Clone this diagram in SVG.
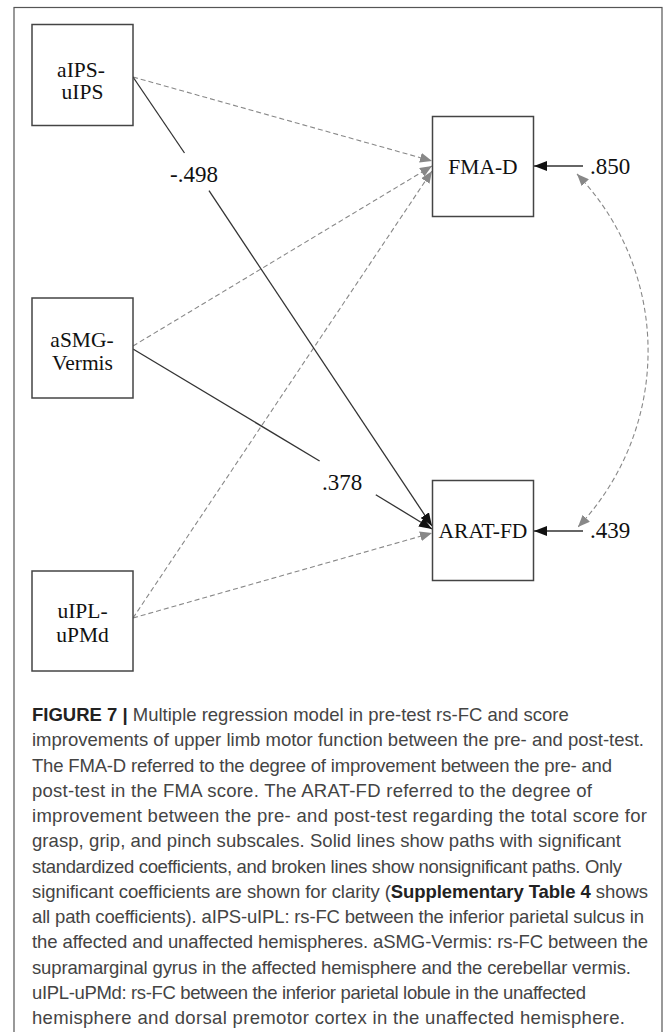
<svg xmlns="http://www.w3.org/2000/svg" width="668" height="1032" viewBox="0 0 668 1032">
<style>
.box{fill:#fff;stroke:#444;stroke-width:1.5}
.lbl{font-family:"Liberation Serif","Times New Roman",serif;font-size:21.5px;fill:#111;text-anchor:middle}
.num{font-family:"Liberation Serif","Times New Roman",serif;font-size:23px;fill:#111}
.sol{fill:none;stroke:#333;stroke-width:1.3}
.dash{fill:none;stroke:#888;stroke-width:1.1;stroke-dasharray:5,3}
.cap{font-family:"Liberation Sans",Arial,sans-serif;font-size:18.5px;fill:#444}
.b{font-weight:bold;fill:#222}
</style>
<defs>
<marker id="ab" viewBox="0 0 13 10" refX="13" refY="5" markerWidth="13" markerHeight="10" markerUnits="userSpaceOnUse" orient="auto">
<path d="M0,0 L13,5 L0,10 Z" fill="#111"/>
</marker>
<marker id="ag" viewBox="0 0 12 10" refX="12" refY="5" markerWidth="12" markerHeight="10" markerUnits="userSpaceOnUse" orient="auto-start-reverse">
<path d="M0,0 L12,5 L0,10 Z" fill="#888"/>
</marker>
</defs>
<rect x="14" y="7.5" width="648" height="1040" fill="#fff" stroke="#555" stroke-width="1.2"/>
<g id="connectors">
<line class="dash" x1="133" y1="77" x2="432" y2="161" marker-end="url(#ag)"/>
<line class="dash" x1="133" y1="346" x2="432" y2="166" marker-end="url(#ag)"/>
<line class="dash" x1="133" y1="618" x2="432" y2="171" marker-end="url(#ag)"/>
<line class="dash" x1="133" y1="618" x2="432" y2="533" marker-end="url(#ag)"/>
<line class="sol" x1="133" y1="77" x2="184.5" y2="153"/>
<line class="sol" x1="209" y1="190.7" x2="432" y2="526" marker-end="url(#ab)"/>
<line class="sol" x1="133" y1="349" x2="319.6" y2="461"/>
<line class="sol" x1="375.8" y1="494.7" x2="432" y2="529" marker-end="url(#ab)"/>
<line class="sol" x1="583" y1="166" x2="534" y2="166" marker-end="url(#ab)"/>
<line class="sol" x1="583" y1="531" x2="534" y2="531" marker-end="url(#ab)"/>
<path class="dash" d="M577,174 A256,256 0 0 1 578,527" marker-start="url(#ag)" marker-end="url(#ag)"/>
<text class="num" x="170" y="182">-.498</text>
<text class="num" x="322" y="490">.378</text>
<text class="num" x="590" y="174">.850</text>
<text class="num" x="590" y="538">.439</text>
</g>
<g id="aIPS-uIPS">
<rect class="box" x="32" y="24.5" width="101" height="101"/>
<text class="lbl" x="81" y="77">aIPS-</text>
<text class="lbl" x="82.5" y="99">uIPS</text>
</g>
<g id="aSMG-Vermis">
<rect class="box" x="32" y="298" width="101" height="100"/>
<text class="lbl" x="82" y="347">aSMG-</text>
<text class="lbl" x="82.5" y="370">Vermis</text>
</g>
<g id="uIPL-uPMd">
<rect class="box" x="32" y="571" width="101" height="100"/>
<text class="lbl" x="82.5" y="618">uIPL-</text>
<text class="lbl" x="82.5" y="642">uPMd</text>
</g>
<g id="FMA-D">
<rect class="box" x="432.5" y="116.5" width="101" height="100"/>
<text class="lbl" x="483" y="174">FMA-D</text>
</g>
<g id="ARAT-FD">
<rect class="box" x="432.5" y="480.5" width="101" height="100"/>
<text class="lbl" x="483" y="538">ARAT-FD</text>
</g>
<g id="caption">
<text class="cap" x="32" y="721"><tspan class="b">FIGURE 7 | </tspan>Multiple regression model in pre-test rs-FC and score</text>
<text class="cap" x="32" y="746.25" textLength="612" lengthAdjust="spacing">improvements of upper limb motor function between the pre- and post-test.</text>
<text class="cap" x="32" y="771.5" textLength="580" lengthAdjust="spacing">The FMA-D referred to the degree of improvement between the pre- and</text>
<text class="cap" x="32" y="796.75" textLength="560" lengthAdjust="spacing">post-test in the FMA score. The ARAT-FD referred to the degree of</text>
<text class="cap" x="32" y="822" textLength="615" lengthAdjust="spacing">improvement between the pre- and post-test regarding the total score for</text>
<text class="cap" x="32" y="847.25" textLength="589" lengthAdjust="spacing">grasp, grip, and pinch subscales. Solid lines show paths with significant</text>
<text class="cap" x="32" y="872.5" textLength="590" lengthAdjust="spacing">standardized coefficients, and broken lines show nonsignificant paths. Only</text>
<text class="cap" x="32" y="897.75" textLength="616" lengthAdjust="spacing">significant coefficients are shown for clarity (<tspan class="b">Supplementary Table 4</tspan> shows</text>
<text class="cap" x="32" y="923" textLength="612" lengthAdjust="spacing">all path coefficients). aIPS-uIPL: rs-FC between the inferior parietal sulcus in</text>
<text class="cap" x="32" y="948.25" textLength="616" lengthAdjust="spacing">the affected and unaffected hemispheres. aSMG-Vermis: rs-FC between the</text>
<text class="cap" x="32" y="973.5" textLength="599" lengthAdjust="spacing">supramarginal gyrus in the affected hemisphere and the cerebellar vermis.</text>
<text class="cap" x="32" y="998.75" textLength="554" lengthAdjust="spacing">uIPL-uPMd: rs-FC between the inferior parietal lobule in the unaffected</text>
<text class="cap" x="32" y="1024" textLength="593" lengthAdjust="spacing">hemisphere and dorsal premotor cortex in the unaffected hemisphere.</text>
</g>
</svg>
